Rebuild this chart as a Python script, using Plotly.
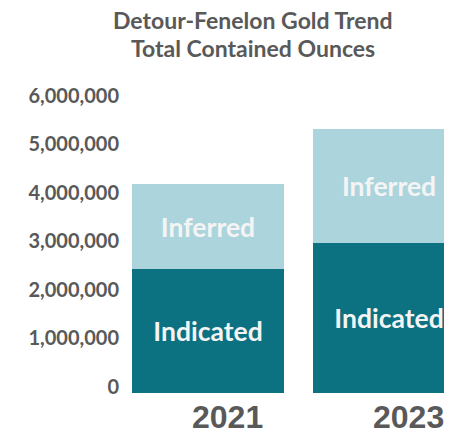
import plotly.graph_objects as go

years = ["2021", "2023"]
indicated = [2.55e6, 3.1e6]
inferred = [1.75e6, 2.35e6]
tick_vals = [0, 1e6, 2e6, 3e6, 4e6, 5e6, 6e6]
tick_text = ["0", "1,000,000", "2,000,000", "3,000,000", "4,000,000", "5,000,000", "6,000,000"]
title_lines = ["Detour-Fenelon Gold Trend", "Total Contained Ounces"]

GRAY = "#595959"
W, H = 444, 423          # page has an 8px body margin
L, R, T, B = 116, 0, 89, 38

fig = go.Figure()
fig.add_trace(go.Bar(
    x=years, y=indicated, name="Indicated", marker_color="#0c7181",
    marker_line_width=0, width=0.84,
    text=["Indicated"] * len(years), textposition="inside",
    insidetextanchor="middle",
    textfont=dict(family="Lato", size=26.5, color="#f4f4f4", weight="bold"),
))
fig.add_trace(go.Bar(
    x=years, y=inferred, name="Inferred", marker_color="#acd4dc",
    marker_line_width=0, width=0.84,
    text=["Inferred"] * len(years), textposition="inside",
    insidetextanchor="middle",
    textfont=dict(family="Lato", size=26.5, color="#f4f4f4", weight="bold"),
))

for i, (yr, dx) in enumerate(zip(years, [20, 19])):
    fig.add_annotation(x=i, y=0, xref="x", yref="y", text=yr, showarrow=False,
                       yanchor="top", yshift=-4, xshift=dx,
                       font=dict(family="Liberation Sans", size=32, color=GRAY, weight="bold"))

pw, ph = W - L - R, H - T - B
for line, ypx in zip(title_lines, [12, 40]):
    fig.add_annotation(x=(245 - L) / pw, y=(H - ypx - B) / ph, xref="paper", yref="paper",
                       text=line, showarrow=False, xanchor="center", yanchor="middle",
                       font=dict(family="Lato", size=23, color=GRAY, weight="bold"))

fig.update_layout(
    width=W, height=H,
    barmode="stack",
    showlegend=False,
    uniformtext=dict(mode="show", minsize=10),
    margin=dict(l=L, r=R, t=T, b=B, autoexpand=False),
    plot_bgcolor="white", paper_bgcolor="white",
    xaxis=dict(type="category", range=[-0.464, 1.348], showticklabels=False, showgrid=False,
               zeroline=False, showline=False, ticks="", automargin=False),
    yaxis=dict(range=[0, 6.1e6], tickvals=tick_vals, ticktext=tick_text,
               showgrid=False, zeroline=False, showline=False, ticks="",
               ticklabelshift=-6, ticklabelstandoff=4, automargin=False,
               tickfont=dict(family="Lato", size=20, color=GRAY, weight="bold")),
)
fig.write_html("out.html")
